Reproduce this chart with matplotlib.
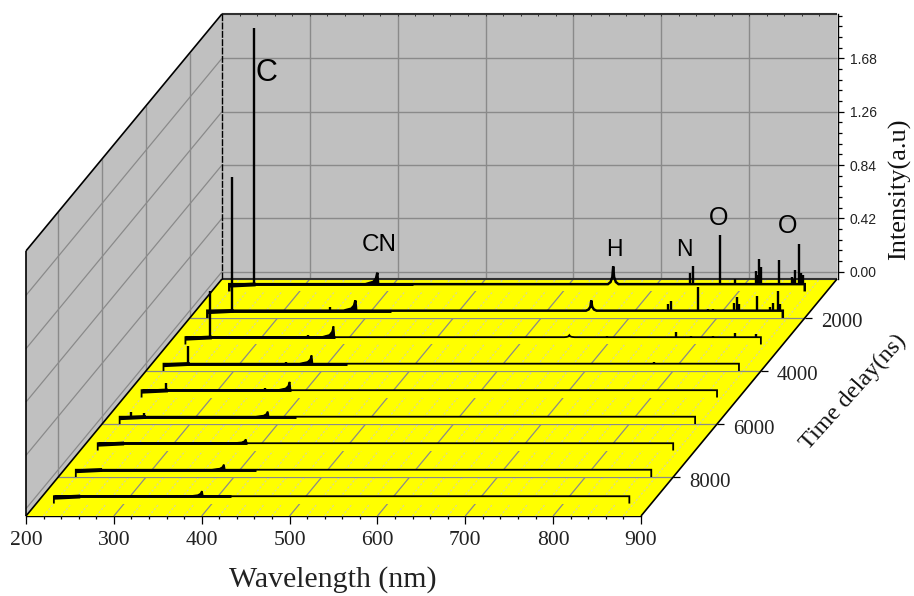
import itertools
import matplotlib
matplotlib.use("Agg")
import matplotlib.pyplot as plt
from matplotlib.ticker import MultipleLocator

# ---------- data ----------
times = [1000, 2000, 3000, 4000, 5000, 6000, 7000, 8000, 9000]
wl_start = 220
wl_end = 875
cn_heights = [0.09, 0.08, 0.085, 0.065, 0.065, 0.04, 0.03, 0.04, 0.04]
h_heights = [0.14, 0.08, 0.016, 0.0, 0.0, 0.0, 0.0, 0.0, 0.0]
thick_until = [429, 429, 390, 429, 390, 421, 390, 425, 422]
spikes_1000 = [(248, 2.02), (360, 0.012), (744, 0.087), (748, 0.14), (778, 0.386), (796, 0.04),
               (819, 0.10), (821, 0.07), (823, 0.197), (825, 0.134), (846, 0.19), (860, 0.055),
               (862, 0.04), (864, 0.11), (869, 0.315), (871, 0.09), (873, 0.07)]
spikes_2000 = [(248, 1.05), (360, 0.025), (744, 0.055), (748, 0.08), (778, 0.19), (790, 0.012), (796, 0.016),
               (820, 0.06), (823, 0.11), (825, 0.05), (846, 0.118), (860, 0.03), (864, 0.063),
               (869, 0.157), (872, 0.05)]
spikes_3000 = [(248, 0.36), (360, 0.02), (700, 0.006), (778, 0.04), (796, 0.01), (820, 0.012), (846, 0.03),
               (870, 0.024)]
spikes_4000 = [(248, 0.14), (360, 0.015), (600, 0.006), (778, 0.01), (820, 0.008)]
spikes_5000 = [(248, 0.055), (360, 0.015)]
spikes_6000 = [(233, 0.04), (248, 0.03), (360, 0.008)]
spikes_7000 = [(360, 0.008)]
spikes_8000 = []
spikes_9000 = [(360, 0.006)]
all_spikes = [spikes_1000, spikes_2000, spikes_3000, spikes_4000, spikes_5000,
              spikes_6000, spikes_7000, spikes_8000, spikes_9000]
z_ticks = [0.00, 0.42, 0.84, 1.26, 1.68]
t_ticks = [2000, 4000, 6000, 8000]
wl_major = [300, 400, 500, 600, 700, 800]
wl_minor = [w for w in range(220, 900, 20) if w % 100]

# ---------- oblique-axis geometry ----------
W, H = 914, 596
t_back, t_front = 530, 9470
z_floor, z_top = -0.0575, 2.03
PX_NM = 615 / 700
PX_Z = 127.0
DX_T = 196 / (t_front - t_back)
DY_T = 237 / (t_front - t_back)
GRAY = "#8A8A8A"
WALL = "#C0C0C0"
SERIF = "Liberation Serif"
SANS = "Liberation Sans"
order = itertools.count(3)


def proj(w, t, z):
    return w + (t_front - t) * DX_T / PX_NM, z + (t_front - t) * DY_T / PX_Z


def segment(w0, t0, z0, w1, t1, z1):
    a, b = proj(w0, t0, z0), proj(w1, t1, z1)
    return [a[0], b[0]], [a[1], b[1]]


fig = plt.figure(figsize=(W / 100, H / 100), dpi=100, facecolor="white")
ax = fig.add_axes([26 / W, (H - 516) / H, 615 / W, 516 / H])
ax.set_xlim(200, 900)
ax.set_ylim(z_floor, z_floor + 516 / PX_Z)
ax.patch.set_visible(False)
for s in ["left", "right", "top"]:
    ax.spines[s].set_visible(False)
ax.spines["bottom"].set_linewidth(1.0)
ax.yaxis.set_visible(False)
ax.xaxis.set_major_locator(MultipleLocator(100))
ax.xaxis.set_minor_locator(MultipleLocator(20))
ax.tick_params(axis="x", which="major", length=5.5, width=0.9, pad=5, labelsize=15.6)
ax.tick_params(axis="x", which="minor", length=2.4, width=0.9)
for lab in ax.get_xticklabels():
    lab.set_family(SERIF)
    lab.set_color("#222222")


def line(xy, **kw):
    kw.setdefault("clip_on", False)
    kw.setdefault("solid_capstyle", "butt")
    ax.plot(xy[0], xy[1], zorder=next(order), **kw)


def poly(corners, color):
    pts = [proj(*c) for c in corners]
    ax.fill([p[0] for p in pts], [p[1] for p in pts], color=color, lw=0, clip_on=False, zorder=next(order))


# walls and floor
poly([(200, t_front, z_floor), (200, t_back, z_floor), (200, t_back, z_top), (200, t_front, z_top)], WALL)
poly([(200, t_back, z_floor), (900, t_back, z_floor), (900, t_back, z_top), (200, t_back, z_top)], WALL)
poly([(200, t_front, z_floor), (900, t_front, z_floor), (900, t_back, z_floor), (200, t_back, z_floor)], "#FFFF00")

# wall grids
for z in z_ticks:
    line(segment(200, t_back, z, 900, t_back, z), color=GRAY, lw=1.0)
    line(segment(200, t_front, z, 200, t_back, z), color=GRAY, lw=0.9)
for w in wl_major:
    line(segment(w, t_back, z_floor, w, t_back, z_top), color=GRAY, lw=1.0)
for t in t_ticks:
    line(segment(200, t, z_floor, 200, t, z_top), color=GRAY, lw=1.0)

# floor grid
for w in wl_minor:
    line(segment(w, t_front, z_floor, w, t_back, z_floor), color="#D8D89A", lw=0.9, ls=(0, (1.6, 1.6)))
for w in wl_major:
    line(segment(w, t_front, z_floor, w, t_back, z_floor), color=GRAY, lw=0.9)
for t in t_ticks:
    line(segment(200, t, z_floor, 900, t, z_floor), color=GRAY, lw=0.9)

# frame
line(segment(200, t_back, z_floor, 900, t_back, z_floor), color="#303030", lw=1.5)
line(segment(200, t_back, z_top, 900, t_back, z_top), color="#303030", lw=1.5)
line(segment(200, t_back, z_floor, 200, t_back, z_top), color="black", lw=1.0, ls=(0, (5, 1)))
line(segment(200, t_front, z_floor, 200, t_back, z_floor), color="black", lw=1.2)
line(segment(900, t_front, z_floor, 900, t_back, z_floor), color="black", lw=1.2)
line(segment(200, t_front, z_floor, 200, t_front, z_top), color="black", lw=1.2)
line(segment(200, t_front, z_top, 200, t_back, z_top), color="black", lw=1.2)
for w in range(220, 900, 20):
    line(segment(w, t_back, z_top, w, t_back, z_top - 0.02), color="#303030", lw=0.7)

# time axis ticks and labels
for t in t_ticks:
    x, y = proj(900, t, z_floor)
    line(segment(900, t, z_floor, 900 + 7 / PX_NM, t, z_floor), color="black", lw=0.9)
    ax.annotate(str(t), xy=(x, y), xytext=(16 * 0.72, -5 * 0.72), textcoords="offset points",
                ha="left", va="center", fontsize=15, family=SERIF, color="#222222", annotation_clip=False)

# spectra, back to front
for i in range(len(times)):
    t = times[i]
    # curtain between the trace and the floor hides the floor grid
    xa, ya = proj(wl_start, t, 0.0)
    xb, yb = proj(wl_end, t, 0.0)
    ax.fill_between([xa, xb], [ya, yb], [ya + z_floor, yb + z_floor], color="#FFFF00", lw=0,
                    clip_on=False, zorder=next(order))

    pts = [(wl_start, z_floor), (wl_start, 0.0)]
    cn = cn_heights[i]
    pts += [(375, 0.0), (384, 0.2 * cn), (387, 0.5 * cn), (388.5, cn), (389.5, 0.0)]
    hh = h_heights[i]
    if hh:
        pts += [(651, 0.0), (654, 0.12 * hh), (656, 0.4 * hh), (657, hh), (658, 0.4 * hh), (660, 0.12 * hh), (663, 0.0)]
    pts += [(wl_end, 0.0), (wl_end, z_floor)]
    pp = [proj(w, t, z) for w, z in pts]
    thin = 1.8 if i < 2 else 1.3
    line(([p[0] for p in pp], [p[1] for p in pp]), color="black", lw=thin, solid_joinstyle="miter")
    # CN wedge
    wedge = [proj(w, t, z) for w, z in pts[2:7]]
    ax.fill([p[0] for p in wedge], [p[1] for p in wedge], color="black", lw=0.4, clip_on=False, zorder=next(order))
    # thick early part of each baseline
    line(segment(wl_start, t, 0.0, thick_until[i], t, 0.0), color="black", lw=2.1)
    line(segment(wl_start, t, -0.012, 250, t, -0.002), color="black", lw=2.8)
    # narrow emission lines
    for w, z in all_spikes[i]:
        line(segment(w, t, 0.0, w, t, z), color="black", lw=1.7)

# intensity axis
axz = fig.add_axes([837 / W, (H - 279) / H, 1 / W, (279 - 14) / H])
axz.set_ylim(z_floor, z_top)
axz.patch.set_visible(False)
axz.xaxis.set_visible(False)
for s in ["left", "top", "bottom"]:
    axz.spines[s].set_visible(False)
axz.spines["right"].set_linewidth(1.0)
axz.yaxis.tick_right()
axz.set_yticks(z_ticks)
axz.set_yticklabels([f"{z:.2f}" for z in z_ticks], fontsize=10, family=SANS, color="#222222")
axz.yaxis.set_minor_locator(MultipleLocator(0.084))
axz.tick_params(axis="y", which="major", length=4.5, width=0.9, pad=4)
axz.tick_params(axis="y", which="minor", length=2.8, width=0.9)


def ftext(x, y, s, **kw):
    fig.text(x / W, 1 - y / H, s, ha="center", va="center", **kw)


ftext(333, 580, "Wavelength (nm)", fontsize=21.5, family=SERIF, color="#222222")
ftext(900, 189, "Intensity(a.u)", fontsize=19, family=SERIF, rotation=90, color="#111111")
ftext(853, 392, "Time delay(ns)", fontsize=17.5, family=SERIF, rotation=48, color="#111111",
      rotation_mode="anchor")
ftext(266, 73, "C", fontsize=22, family=SANS)
ftext(379, 245, "CN", fontsize=17.5, family=SANS)
ftext(614, 250, "H", fontsize=16.5, family=SANS)
ftext(684, 250, "N", fontsize=16.5, family=SANS)
ftext(719, 218, "O", fontsize=18, family=SANS)
ftext(788, 226, "O", fontsize=18, family=SANS)

fig.savefig("out.png", dpi=100)
